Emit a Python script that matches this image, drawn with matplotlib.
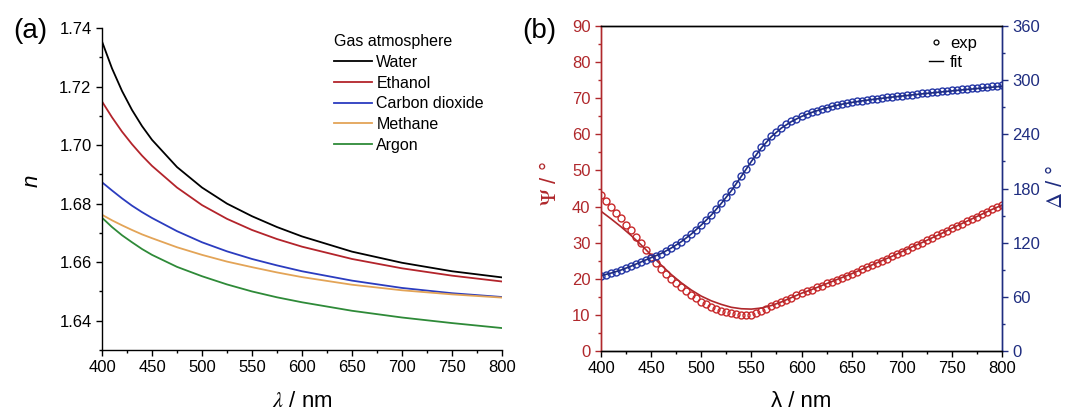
import matplotlib
matplotlib.use("Agg")
import matplotlib.pyplot as plt
from matplotlib.lines import Line2D
from matplotlib.ticker import MultipleLocator

plt.rcParams['font.family'] = ['Liberation Sans', 'DejaVu Sans']
plt.rcParams['mathtext.fontset'] = 'stix'

# ---------------- Panel (a) data ----------------
wl_a = [400, 410, 420, 430, 440, 450, 475, 500, 525, 550, 575, 600, 650, 700, 750, 800]
n_water = [1.7354, 1.7262, 1.7185, 1.7120, 1.7065, 1.7018, 1.6925, 1.6855, 1.6800, 1.6757,
           1.6720, 1.6688, 1.6636, 1.6598, 1.6569, 1.6548]
n_ethanol = [1.7149, 1.7095, 1.7046, 1.7003, 1.6964, 1.6929, 1.6855, 1.6795, 1.6748, 1.6710,
             1.6679, 1.6653, 1.6611, 1.6579, 1.6554, 1.6534]
n_co2 = [1.6873, 1.6845, 1.6818, 1.6793, 1.6771, 1.6751, 1.6706, 1.6668, 1.6637, 1.6611,
         1.6589, 1.6569, 1.6537, 1.6512, 1.6494, 1.6481]
n_methane = [1.6762, 1.6743, 1.6726, 1.6710, 1.6695, 1.6682, 1.6651, 1.6625, 1.6602, 1.6583,
             1.6565, 1.6549, 1.6523, 1.6504, 1.6490, 1.6479]
n_argon = [1.6752, 1.6720, 1.6692, 1.6668, 1.6645, 1.6625, 1.6584, 1.6552, 1.6524, 1.6500,
           1.6480, 1.6463, 1.6434, 1.6411, 1.6392, 1.6375]
gas_labels = ["Water", "Ethanol", "Carbon dioxide", "Methane", "Argon"]
gas_colors = ["#000000", "#b3242b", "#2b3cbf", "#e3a457", "#2e8a38"]

# ---------------- Panel (b) data ----------------
wl_exp = list(range(400, 801, 5))
psi_exp = [43.3, 41.6, 40.0, 38.3, 36.7, 35.0, 33.4, 31.7, 29.9, 28.0,
           26.0, 24.3, 22.8, 21.4, 20.0, 18.8, 17.6, 16.5, 15.5, 14.6,
           13.7, 12.9, 12.3, 11.7, 11.2, 10.8, 10.5, 10.2, 10.1, 10.0,
           10.1, 10.4, 11.0, 11.7, 12.4, 13.0, 13.6, 14.2, 14.8, 15.4,
           16.0, 16.5, 17.0, 17.6, 18.1, 18.7, 19.2, 19.8, 20.3, 20.9,
           21.4, 22.0, 22.6, 23.2, 23.8, 24.4, 25.0, 25.6, 26.2, 26.9,
           27.5, 28.1, 28.8, 29.4, 30.0, 30.7, 31.3, 32.0, 32.6, 33.3,
           34.0, 34.6, 35.3, 35.9, 36.6, 37.2, 37.9, 38.5, 39.2, 39.8,
           40.5]
delta_exp = [83.0, 84.4, 86.0, 87.7, 89.5, 91.7, 94.0, 96.4, 98.8, 101.0,
             103.5, 105.7, 108.0, 111.0, 114.0, 117.4, 121.0, 125.0, 129.5, 134.3,
             139.5, 144.9, 150.5, 156.8, 163.5, 170.3, 177.5, 185.3, 193.5, 202.0,
             210.0, 218.0, 225.5, 232.0, 238.0, 243.0, 247.5, 251.2, 254.5, 257.4,
             260.0, 262.3, 264.5, 266.3, 268.0, 269.6, 271.0, 272.3, 273.5, 274.5,
             275.5, 276.4, 277.2, 278.0, 278.8, 279.5, 280.2, 280.9, 281.5, 282.2,
             282.8, 283.4, 284.0, 284.7, 285.3, 285.9, 286.5, 287.1, 287.7, 288.3,
             288.8, 289.4, 290.0, 290.6, 291.2, 291.8, 292.3, 292.9, 293.4, 294.0,
             294.5]
wl_fit = list(range(400, 801, 10))
psi_fit = [38.7, 36.6, 34.4, 32.0, 29.4, 26.6, 23.8, 21.2, 18.9, 16.9,
           15.2, 13.9, 12.9, 12.1, 11.7, 11.6, 11.9, 12.6, 13.6, 14.8,
           16.0, 17.0, 18.1, 19.2, 20.3, 21.4, 22.6, 23.8, 25.0, 26.2,
           27.5, 28.8, 30.0, 31.3, 32.6, 34.0, 35.3, 36.6, 37.9, 39.2,
           40.4]
delta_fit = [83.5, 86.3, 89.7, 94.0, 98.7, 103.4, 108.0, 114.0, 121.0, 129.5,
             139.5, 150.5, 163.5, 177.5, 193.5, 210.0, 225.0, 237.5, 247.0, 254.2,
             259.8, 264.2, 267.8, 270.8, 273.3, 275.3, 277.0, 278.5, 279.9, 281.2,
             282.4, 283.6, 284.8, 285.9, 287.0, 288.1, 289.2, 290.2, 291.2, 292.2,
             293.2]

PSI_C = "#b0282c"
PSI_MK = "#c8282a"
DEL_C = "#1f2d80"
DEL_MK = "#2335a5"

W, H = 1067, 411
fig = plt.figure(figsize=(W / 100, H / 100), dpi=100)


def px(x0, y0, x1, y1):
    return [x0 / W, 1 - y1 / H, (x1 - x0) / W, (y1 - y0) / H]


# ---------------- Panel (a) ----------------
axa = fig.add_axes(px(102, 28, 502, 350))
for y, lab, c in zip([n_water, n_ethanol, n_co2, n_methane, n_argon], gas_labels, gas_colors):
    axa.plot(wl_a, y, color=c, lw=1.3, label=lab)
axa.set_xlim(400, 800)
axa.set_ylim(1.63, 1.74)
axa.xaxis.set_major_locator(MultipleLocator(50))
axa.xaxis.set_minor_locator(MultipleLocator(25))
axa.yaxis.set_minor_locator(MultipleLocator(0.01))
axa.set_yticks([1.64, 1.66, 1.68, 1.70, 1.72, 1.74])
axa.set_yticklabels(["1.64", "1.66", "1.68", "1.70", "1.72", "1.74"])
axa.spines['top'].set_visible(False)
axa.spines['right'].set_visible(False)
for s in ['left', 'bottom']:
    axa.spines[s].set_linewidth(1.0)
axa.tick_params(which='major', direction='out', length=4.5, width=1.0, labelsize=12, pad=3)
axa.tick_params(which='minor', direction='out', length=2.5, width=1.0)
leg = axa.legend(loc='upper left', bbox_to_anchor=(334 / W, 1 - 34 / H),
                 bbox_transform=fig.transFigure, frameon=False, fontsize=11.5,
                 title="Gas atmosphere", title_fontsize=11.5, alignment='left',
                 handlelength=2.35, handletextpad=0.3, labelspacing=0.36,
                 borderpad=0, borderaxespad=0)

fig.text(30 / W, 1 - 31 / H, "(a)", fontsize=20, ha='center', va='center')
fig.text(32 / W, 1 - 181 / H, "n", fontsize=16, style='italic', rotation=90,
         ha='center', va='center')
fig.text(302 / W, 1 - 401 / H, r"$\mathit{\lambda}$ / nm", fontsize=16, ha='center', va='center')

# ---------------- Panel (b) ----------------
axb = fig.add_axes(px(601, 26, 1002, 351))
axd = axb.twinx()
axb.plot(wl_exp, psi_exp, linestyle='none', marker='o', ms=5.0, mfc='none',
         mec=PSI_MK, mew=1.0)
axb.plot(wl_fit, psi_fit, color=PSI_C, lw=1.2)
axd.plot(wl_exp, delta_exp, linestyle='none', marker='o', ms=5.0, mfc='none',
         mec=DEL_MK, mew=1.0)
axd.plot(wl_fit, delta_fit, color=DEL_C, lw=1.2)

axb.set_xlim(400, 800)
axb.set_ylim(0, 90)
axd.set_ylim(0, 360)
axb.xaxis.set_major_locator(MultipleLocator(50))
axb.xaxis.set_minor_locator(MultipleLocator(25))
axb.yaxis.set_major_locator(MultipleLocator(10))
axb.yaxis.set_minor_locator(MultipleLocator(5))
axd.yaxis.set_major_locator(MultipleLocator(60))
axd.yaxis.set_minor_locator(MultipleLocator(30))

for ax in (axb, axd):
    ax.spines['left'].set_color(PSI_C)
    ax.spines['right'].set_color(DEL_C)
    ax.spines['top'].set_color('black')
    ax.spines['bottom'].set_color('black')
    for s in ax.spines.values():
        s.set_linewidth(1.0)

axb.tick_params(axis='x', which='major', direction='out', length=4.5, width=1.0, labelsize=12, pad=3)
axb.tick_params(axis='x', which='minor', direction='out', length=2.5, width=1.0)
axb.tick_params(axis='y', which='major', direction='out', length=4.5, width=1.0, labelsize=12,
                colors=PSI_C, pad=3)
axb.tick_params(axis='y', which='minor', direction='out', length=2.5, width=1.0, colors=PSI_C)
axd.tick_params(axis='y', which='major', direction='out', length=4.5, width=1.0, labelsize=12,
                colors=DEL_C, pad=3)
axd.tick_params(axis='y', which='minor', direction='out', length=2.5, width=1.0, colors=DEL_C)

handles = [Line2D([], [], linestyle='none', marker='o', ms=3.5, mfc='none', mec='black', mew=0.9),
           Line2D([], [], color='black', lw=1.0)]
axd.legend(handles, ["exp", "fit"], loc='upper left', bbox_to_anchor=(929 / W, 1 - 36 / H),
           bbox_transform=fig.transFigure, frameon=False, fontsize=12,
           handlelength=0.85, handletextpad=0.4, labelspacing=0.25,
           borderpad=0, borderaxespad=0)

fig.text(539 / W, 1 - 31 / H, "(b)", fontsize=20, ha='center', va='center')
fig.text(551 / W, 1 - 184 / H, r"$\mathit{\Psi}$ / °", fontsize=16, color=PSI_C, rotation=90,
         ha='center', va='center')
fig.text(1056 / W, 1 - 187 / H, r"$\mathit{\Delta}$ / °", fontsize=16, color=DEL_C, rotation=90,
         ha='center', va='center')
fig.text(801 / W, 1 - 401 / H, "λ / nm", fontsize=16, ha='center', va='center')

fig.savefig("out.png", dpi=100)
